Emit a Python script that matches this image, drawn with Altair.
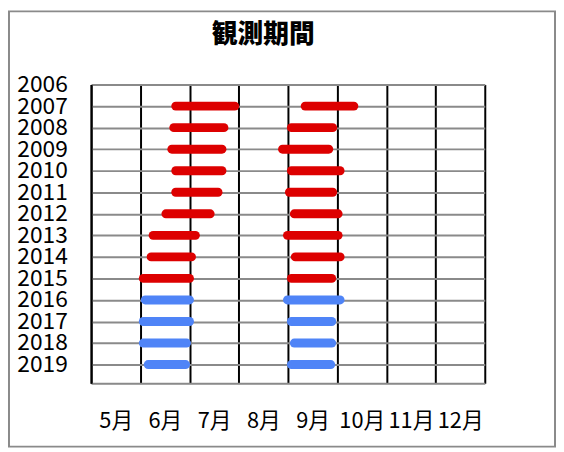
import altair as alt
import pandas as pd

years = list(range(2007, 2020))
# x in month-interval units: 0 = start of 5月 column, 1 = start of 6月, ...
seg1_start = [1.72, 1.68, 1.64, 1.72, 1.72, 1.52, 1.26, 1.22, 1.06, 1.10, 1.06, 1.06, 1.16]
seg1_end   = [2.92, 2.70, 2.66, 2.66, 2.58, 2.42, 2.12, 2.04, 2.00, 2.00, 2.00, 1.94, 1.92]
seg2_start = [4.35, 4.07, 3.89, 4.07, 4.03, 4.13, 3.99, 4.15, 4.07, 3.99, 4.07, 4.13, 4.07]
seg2_end   = [5.34, 4.91, 4.83, 5.06, 4.91, 5.02, 5.02, 5.06, 4.89, 5.06, 4.89, 4.89, 4.87]
groups = ["2007-2015"] * 9 + ["2016-2019"] * 4
year_ticks = list(range(2006, 2020))
month_labels = ["5月", "6月", "7月", "8月", "9月", "10月", "11月", "12月"]

rows = []
for i, y in enumerate(years):
    rows.append({"year": y, "start": seg1_start[i], "end": seg1_end[i], "group": groups[i]})
    rows.append({"year": y, "start": seg2_start[i], "end": seg2_end[i], "group": groups[i]})
df = pd.DataFrame(rows)

FONT = "Noto Sans CJK JP"
label_expr = "datum.value < 8 ? " + str(month_labels) + "[datum.value] : ''"

x_axis = alt.Axis(
    values=list(range(0, 9)), labelExpr=label_expr, labelOffset=24.9,
    grid=True, gridColor="#000000", gridWidth=2, ticks=False,
    domainColor="#8a8a8a", domainWidth=2, title=None,
    labelFont=FONT, labelFontSize=22, labelPadding=28, labelColor="#000000",
    labelFlush=False, labelOverlap=False, labelBound=False,
)
y_axis = alt.Axis(
    values=year_ticks, format="d", grid=True, gridColor="#8a8a8a", gridWidth=2,
    ticks=False, domainColor="#000000", domainWidth=2, title=None,
    labelFont=FONT, labelFontSize=23, labelPadding=24, labelColor="#000000",
    labelOverlap=False, labelBound=False, labelFlush=False,
)

bars = alt.Chart(df).mark_rule(strokeWidth=9, strokeCap="round").encode(
    x=alt.X("start:Q", scale=alt.Scale(domain=[0, 8], nice=False, zero=False), axis=x_axis),
    x2="end:Q",
    y=alt.Y("year:Q", scale=alt.Scale(domain=[2006, 2019.87], reverse=True, nice=False, zero=False), axis=y_axis),
    color=alt.Color("group:N", scale=alt.Scale(domain=["2007-2015", "2016-2019"], range=["#dd0000", "#4f84f7"]), legend=None),
)

border = alt.Chart(alt.Data(values=[{"a": 1}])).mark_rect(
    fill=None, stroke="#8a8a8a", strokeWidth=2, clip=False
).encode(x=alt.value(-83), x2=alt.value(469), y=alt.value(-74), y2=alt.value(366))

chart = alt.layer(bars, border).properties(
    width=398, height=302,
    title=alt.TitleParams(text="観測期間", font=FONT, fontSize=26, fontWeight=900, color="#000000", offset=-38, dx=-25),
    autosize=alt.AutoSizeParams(type="none"),
    padding={"left": 84, "top": 75, "right": 72, "bottom": 65},
).configure_view(stroke="#000000", strokeWidth=2).configure(background="white")

chart.save("out.html", embed_options={"renderer": "svg", "actions": False})
